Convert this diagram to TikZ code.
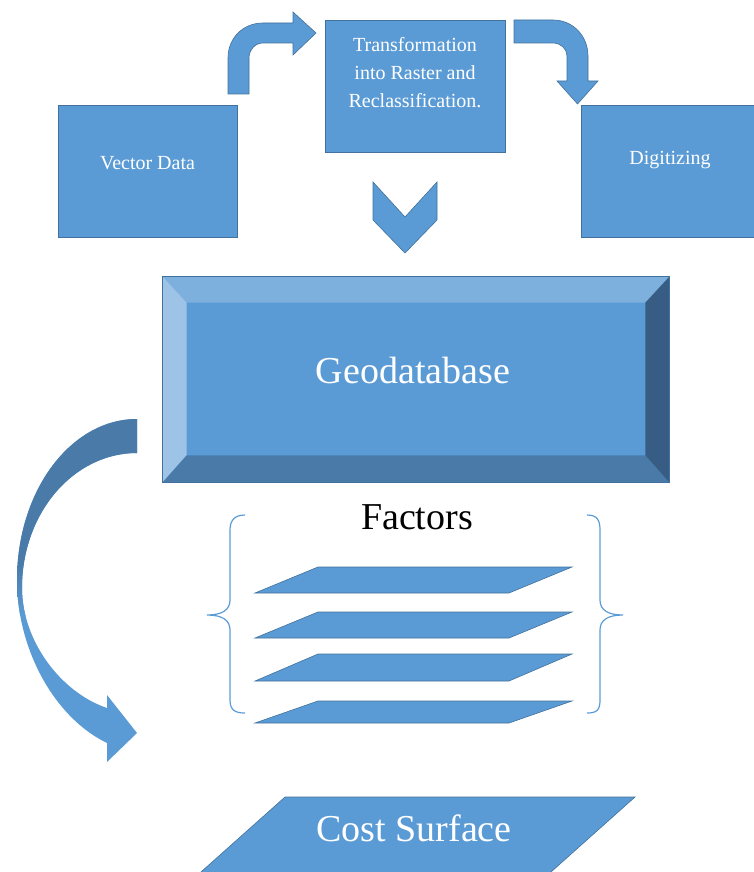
\documentclass[tikz,border=0pt]{standalone}
\usepackage{fontspec}
\setmainfont{Liberation Serif}
\usetikzlibrary{positioning,calc}
\definecolor{boxblue}{HTML}{5B9BD5}
\definecolor{edgeblue}{HTML}{41719C}
\definecolor{bevtop}{HTML}{7EB0DE}
\definecolor{bevleft}{HTML}{9DC3E6}
\definecolor{bevbot}{HTML}{4A7BA8}
\definecolor{bevright}{HTML}{375D84}

\begin{document}
\begin{tikzpicture}[x=1pt,y=-1pt,
   box/.style={draw=edgeblue,fill=boxblue,line width=0.8pt,inner sep=0pt},
   boxtext/.style={text=white,font=\fontsize{20}{28}\selectfont,align=center},
   bigtext/.style={font=\fontsize{38}{44}\selectfont},
   blockarrow/.style={fill=boxblue,draw=edgeblue,line width=0.6pt},
   factorlayer/.style={fill=boxblue,draw=edgeblue,line width=0.6pt},
   bracestyle/.style={draw=boxblue,line width=1.2pt},
   curvearrow/.style={insert path={(137,419)
    .. controls (70.7,419) and (17,491) .. (17,580)
    .. controls (17,650) and (55,718) .. (107,743) -- (107,762) -- (137,733) -- (107,695)
    -- (107,708) .. controls (60,692) and (22,640) .. (22,588)
    .. controls (22,513) and (73.5,453) .. (137,453) -- cycle}}]
  \clip (0,0) rectangle (754,872);
  \node[box,minimum width=179pt,minimum height=132pt] (vector) at (147.5,171) {};
  \node[boxtext] (vectortxt) at (147.5,163) {Vector Data};
  \node[box,minimum width=180pt,minimum height=132pt] (trans) at (415,86) {};
  \node[boxtext] (transtxt) at (415,73) {Transformation\\into Raster and\\Reclassification.};
  \node[box,minimum width=179pt,minimum height=132pt] (digit) at (670.5,171) {};
  \node[boxtext] (digittxt) at (670,160) {Digitizing};
  \filldraw[blockarrow] (228,94) -- (228,58) .. controls (228,38) and (243,23) .. (263,23)
    -- (293,23) -- (293,12) -- (316,33) -- (293,55) -- (293,43) -- (263,43)
    .. controls (255,43) and (249,50) .. (249,58) -- (249,94) -- cycle;
  \filldraw[blockarrow] (514,20) -- (553,20) .. controls (573,20) and (588,36) .. (588,56)
    -- (588,81) -- (598,81) -- (577.5,104) -- (557,81) -- (567,81) -- (567,56)
    .. controls (567,49) and (561,43) .. (553,43) -- (514,43) -- cycle;
  \filldraw[blockarrow] (373,182) -- (405,217) -- (437,182) -- (437,220) -- (405,253)
    -- (373,220) -- cycle;
  \node[box,minimum width=506pt,minimum height=205pt] (geo) at (416,379.5) {};
  \fill[bevtop] (geo.north west) -- (geo.north east) -- ($(geo.north east)+(-24,26)$)
    -- ($(geo.north west)+(24,26)$) -- cycle;
  \fill[bevleft] (geo.north west) -- ($(geo.north west)+(24,26)$)
    -- ($(geo.south west)+(24,-27)$) -- (geo.south west) -- cycle;
  \fill[bevbot] (geo.south west) -- ($(geo.south west)+(24,-27)$)
    -- ($(geo.south east)+(-24,-27)$) -- (geo.south east) -- cycle;
  \fill[bevright] (geo.north east) -- ($(geo.north east)+(-24,26)$)
    -- ($(geo.south east)+(-24,-27)$) -- (geo.south east) -- cycle;
  \draw[edgeblue,line width=0.8pt] (geo.north west) rectangle (geo.south east);
  \node[bigtext,text=white] (geotxt) at (413,370) {Geodatabase};
  \fill[boxblue,curvearrow];
  \begin{scope}
    \clip[curvearrow];
    \fill[bevbot] (0,400) rectangle (160,565);
    \shade[top color=bevbot,bottom color=boxblue] (0,565) rectangle (160,615);
  \end{scope}
  \node[bigtext] (factors) at (417,517) {Factors};
  \draw[bracestyle] (245,515) .. controls (235,515) and (230,520) .. (230,530) -- (230,600)
    .. controls (230,610) and (222,615) .. (207,615) .. controls (222,615) and (230,620) .. (230,630)
    -- (230,700) .. controls (230,710) and (235,713) .. (245,713);
  \draw[bracestyle] (587,515) .. controls (597,515) and (600,520) .. (600,530) -- (600,600)
    .. controls (600,610) and (608,615) .. (623,615) .. controls (608,615) and (600,620) .. (600,630)
    -- (600,700) .. controls (600,710) and (597,713) .. (587,713);
  \foreach \t/\h in {567/26,612/26,654/27,701/22}
    \filldraw[factorlayer] (318,\t) -- (572,\t) -- (509,\t+\h) -- (255,\t+\h) -- cycle;
  \filldraw[factorlayer] (285,797) -- (635,797) -- (542,880) -- (192,880) -- cycle;
  \node[bigtext,text=white] (cost) at (414,828) {Cost Surface};
\end{tikzpicture}
\end{document}
